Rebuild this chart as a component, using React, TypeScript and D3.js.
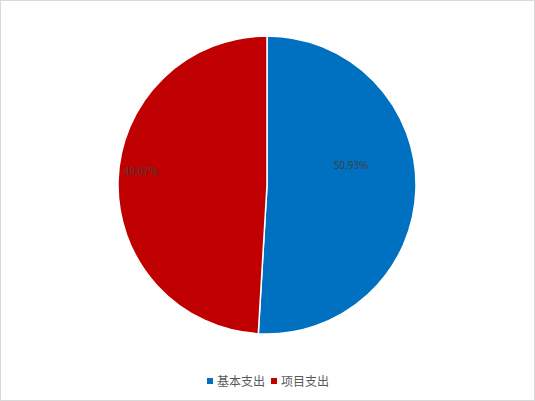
import React, { useEffect, useRef } from 'react';
import * as d3 from 'd3';

// Data for the chart
const categories = ['基本支出', '项目支出'];
const values = [50.93, 49.07];
const colors = ['#0070C0', '#C00000'];

const W = 535;
const H = 401;

const App = () => {
  const ref = useRef<SVGSVGElement | null>(null);

  useEffect(() => {
    const svg = d3.select(ref.current);
    svg.selectAll('*').remove();

    const font = '"Noto Sans CJK SC", "DejaVu Sans", sans-serif';

    // chart border
    svg.append('rect')
      .attr('x', 0.5)
      .attr('y', 0.5)
      .attr('width', W - 1)
      .attr('height', H - 1)
      .attr('fill', '#fff')
      .attr('stroke', '#d9d9d9');

    const cx = 267;
    const cy = 185;
    const radius = 149;

    const data = categories.map((c, i) => ({ name: c, value: values[i] }));

    const pie = d3.pie<any>().value(d => d.value).sort(null);
    const arc = d3.arc<any>().innerRadius(0).outerRadius(radius);

    const g = svg.append('g').attr('transform', `translate(${cx},${cy})`);

    const arcs = pie(data);

    g.selectAll('path')
      .data(arcs)
      .enter()
      .append('path')
      .attr('d', arc)
      .attr('fill', (d, i) => colors[i])
      .attr('stroke', '#fff')
      .attr('stroke-width', 1.5);

    // data labels (best-fit style placement like Excel)
    const labelPos = (d: any, i: number) => {
      const mid = (d.startAngle + d.endAngle) / 2;
      // nudge each label toward the upper part of its slice
      const ang = i === 0 ? mid - 0.26 : mid + 0.075;
      const rr = i === 0 ? radius * 0.58 : radius * 0.85;
      return [Math.sin(ang) * rr, -Math.cos(ang) * rr];
    };

    g.selectAll('text.label')
      .data(arcs)
      .enter()
      .append('text')
      .attr('class', 'label')
      .attr('x', (d, i) => labelPos(d, i)[0])
      .attr('y', (d, i) => labelPos(d, i)[1])
      .attr('dy', '0.35em')
      .attr('text-anchor', 'middle')
      .style('font-family', font)
      .style('font-size', '10px')
      .style('fill', '#404040')
      .text(d => `${d.data.value.toFixed(2)}%`);

    // legend
    const legend = svg.append('g').attr('transform', 'translate(207,381)');
    const xs = [0, 64];
    categories.forEach((c, i) => {
      const item = legend.append('g').attr('transform', `translate(${xs[i]},0)`);
      item.append('rect')
        .attr('x', 0)
        .attr('y', -3)
        .attr('width', 6)
        .attr('height', 6)
        .attr('fill', colors[i]);
      item.append('text')
        .attr('x', 10)
        .attr('y', 0)
        .attr('dy', '0.38em')
        .style('font-family', font)
        .style('font-size', '12px')
        .style('fill', '#595959')
        .text(c);
    });
  }, []);

  return (
    <>
      <style>{`body{margin:0}`}</style>
      <svg ref={ref} width={W} height={H} style={{ display: 'block' }} />
    </>
  );
};

export default App;
